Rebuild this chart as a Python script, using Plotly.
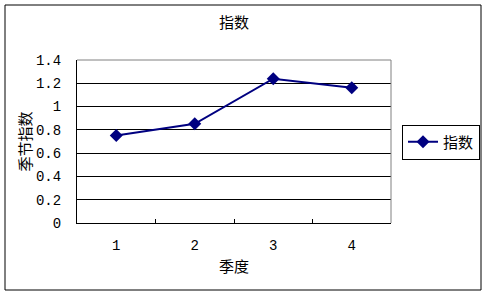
import plotly.graph_objects as go

quarters = ["1", "2", "3", "4"]
index_values = [0.751, 0.852, 1.239, 1.162]
y_ticks = [0, 0.2, 0.4, 0.6, 0.8, 1.0, 1.2, 1.4]
y_tick_labels = ["0", "0.2", "0.4", "0.6", "0.8", "1", "1.2", "1.4"]

NAVY = "#000080"
FONT = "Noto Sans CJK SC"
NUMFONT = "Liberation Mono"

fig = go.Figure()
fig.add_trace(go.Scatter(
    x=quarters, y=index_values, name="指数", mode="lines+markers",
    line=dict(color=NAVY, width=2),
    marker=dict(symbol="diamond", size=10, color=NAVY),
))

L, R, T, B = 77, 96, 60, 73
W, H = 487, 296
pw, ph = W - L - R, H - T - B

def px(xp):
    return (xp - L) / pw

def py(yp):
    return (H - B - yp) / ph

fig.update_layout(
    width=W, height=H,
    margin=dict(l=L, r=R, t=T, b=B, autoexpand=False),
    paper_bgcolor="white", plot_bgcolor="white",
    font=dict(family=FONT, size=12, color="black"),
    title=dict(text="指数", x=0.5, xref="paper", xanchor="center",
               y=(H - 23) / H, yanchor="middle",
               font=dict(family=FONT, size=15, color="black")),
    xaxis=dict(
        type="category", range=[-0.5, 3.5], showgrid=False, zeroline=False,
        showline=True, linecolor="black", linewidth=1,
        ticks="inside", tickson="boundaries", ticklen=4, tickcolor="black",
        ticklabelstandoff=9,
        tickfont=dict(family=NUMFONT, size=14),
        title=dict(text="季度", font=dict(family=FONT, size=15), standoff=8),
    ),
    yaxis=dict(
        range=[0, 1.4], tickvals=y_ticks, ticktext=y_tick_labels,
        showgrid=True, gridcolor="black", gridwidth=1, zeroline=False,
        showline=True, linecolor="black", linewidth=1,
        ticks="", ticklabelstandoff=12,
        tickfont=dict(family=NUMFONT, size=14),
        title=dict(text="季节指数", font=dict(family=FONT, size=15), standoff=0),
    ),
    showlegend=True,
    legend=dict(
        x=px(402), y=py(142), xanchor="left", yanchor="middle",
        bordercolor="black", borderwidth=1, bgcolor="white",
        font=dict(family=FONT, size=15),
        itemwidth=30, tracegroupgap=0,
    ),
    shapes=[
        dict(type="rect", xref="paper", yref="paper",
             x0=px(5), x1=px(481), y0=py(290), y1=py(5),
             line=dict(color="black", width=1), layer="below"),
        dict(type="line", xref="paper", yref="paper",
             x0=0, x1=1, y0=1, y1=1, line=dict(color="#808080", width=1), layer="above"),
        dict(type="line", xref="paper", yref="paper",
             x0=1, x1=1, y0=0, y1=1, line=dict(color="#808080", width=1), layer="above"),
    ],
)

fig.write_html("out.html")
